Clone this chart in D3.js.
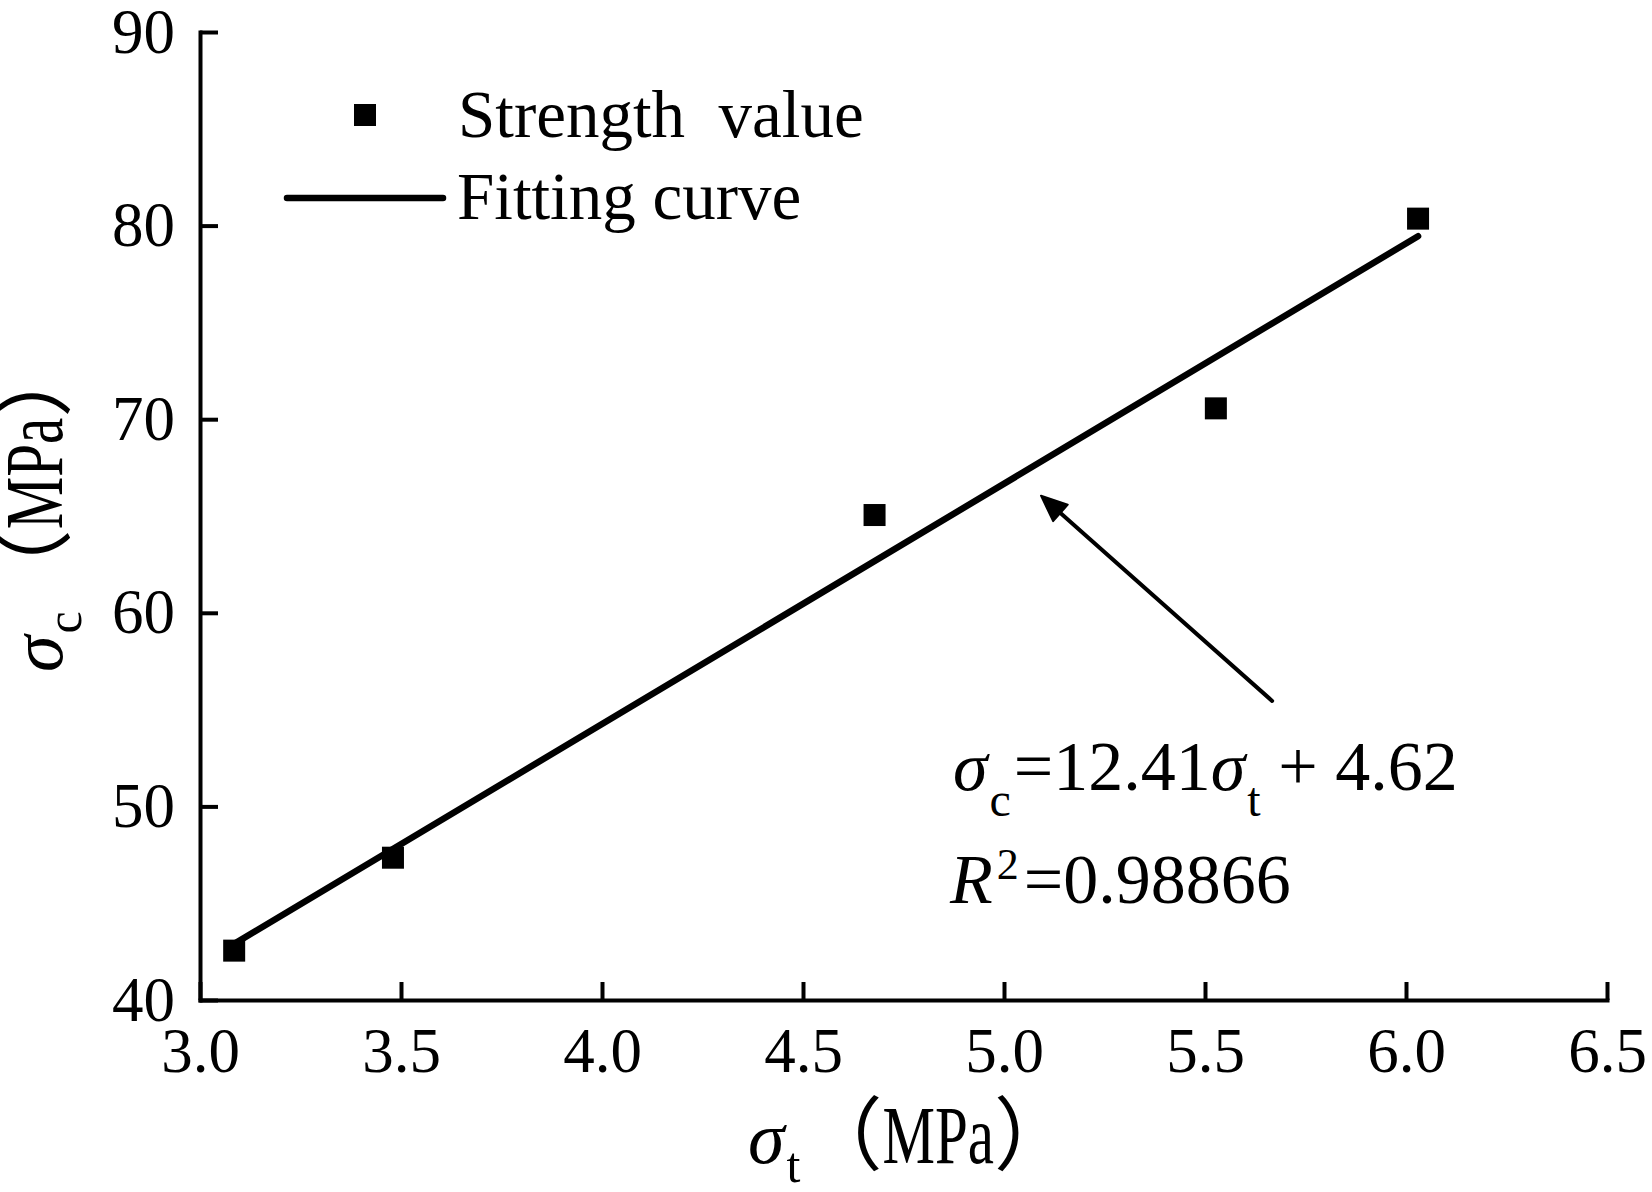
<!DOCTYPE html>
<html>
<head>
<meta charset="utf-8">
<script src="https://cdn.jsdelivr.net/npm/d3@7"></script>
<style>
  html, body { margin: 0; padding: 0; background: #fff; }
  svg { display: block; }
  text { white-space: pre; }
</style>
</head>
<body>
<svg id="chart" width="1652" height="1192"></svg>
<script>
// ---- data ----
const tensileStrength = [3.085, 3.48, 4.678, 5.527, 6.03];       // σt (MPa)
const compressiveStrength = [42.55, 47.35, 65.05, 70.56, 80.36]; // σc (MPa)
const fitX = [3.085, 6.03];
const fitY = [42.90, 79.45];
const xTickValues = [3.0, 3.5, 4.0, 4.5, 5.0, 5.5, 6.0, 6.5];
const yTickValues = [40, 50, 60, 70, 80, 90];
const xDomain = [3.0, 6.5];
const yDomain = [40, 90];
const legendLabels = ["Strength  value", "Fitting curve"];
const arrowFrom = [5.667, 55.45];
const arrowTo = [5.092, 66.05];

// ---- layout ----
const W = 1652, H = 1192;
const plot = { left: 200, right: 1607, top: 32, bottom: 1000 };
const SERIF = "'Liberation Serif', 'Times New Roman', serif";
const CJK = "'Noto Sans CJK SC', sans-serif";

const svg = d3.select("#chart");
svg.append("rect").attr("width", W).attr("height", H).attr("fill", "#fff");

const x = d3.scaleLinear().domain(xDomain).range([plot.left, plot.right]);
const y = d3.scaleLinear().domain(yDomain).range([plot.bottom, plot.top]);

// ---- axes ----
const xAxis = d3.axisBottom(x).tickValues(xTickValues).tickFormat(d3.format(".1f"))
  .tickSizeInner(-18).tickSizeOuter(0).tickPadding(27);
const yAxis = d3.axisLeft(y).tickValues(yTickValues).tickFormat(d3.format("d"))
  .tickSizeInner(-18).tickSizeOuter(0).tickPadding(25);

const gx = svg.append("g").attr("transform", `translate(0,${plot.bottom})`).call(xAxis);
const gy = svg.append("g").attr("transform", `translate(${plot.left},0)`).call(yAxis);

[gx, gy].forEach(g => {
  g.select(".domain").attr("stroke", "#000").attr("stroke-width", 4).attr("stroke-linecap", "square");
  g.selectAll(".tick line").attr("stroke", "#000").attr("stroke-width", 4);
  g.selectAll(".tick text").attr("fill", "#000")
    .style("font-family", SERIF).style("font-size", "63px");
});

// ---- fitting line ----
svg.append("path")
  .datum(fitX.map((v, i) => [v, fitY[i]]))
  .attr("d", d3.line().x(d => x(d[0])).y(d => y(d[1])))
  .attr("fill", "none").attr("stroke", "#000")
  .attr("stroke-width", 6.5).attr("stroke-linecap", "round");

// ---- points ----
const S = 22;
svg.append("g").selectAll("rect")
  .data(tensileStrength.map((v, i) => [v, compressiveStrength[i]]))
  .join("rect")
  .attr("x", d => x(d[0]) - S / 2).attr("y", d => y(d[1]) - S / 2)
  .attr("width", S).attr("height", S).attr("fill", "#000");

// ---- legend ----
const leg = svg.append("g");
leg.append("rect").attr("x", 365 - S / 2).attr("y", 115 - S / 2).attr("width", S).attr("height", S).attr("fill", "#000");
leg.append("line").attr("x1", 287).attr("x2", 443).attr("y1", 198).attr("y2", 198)
  .attr("stroke", "#000").attr("stroke-width", 6.5).attr("stroke-linecap", "round");
leg.append("text").attr("x", 458).attr("y", 137).text(legendLabels[0])
  .style("font-family", SERIF).style("font-size", "67px");
leg.append("text").attr("x", 457).attr("y", 219).text(legendLabels[1])
  .style("font-family", SERIF).style("font-size", "67px");

// ---- rich text helper: pieces laid out one after another ----
function rich(parent, pieces, x0, y0, transform) {
  const g = parent.append("g").attr("transform", transform || null);
  let cx = x0;
  pieces.forEach(p => {
    const sx = p.sx || 1;
    cx += (p.dx || 0);
    const t = g.append("text")
      .attr("transform", `translate(${cx},${y0 + (p.dy || 0)}) scale(${sx},1)`)
      .style("font-family", p.family || SERIF)
      .style("font-size", p.size + "px")
      .style("font-style", p.italic ? "italic" : "normal")
      .attr("fill", "#000")
      .text(p.t);
    cx += t.node().getComputedTextLength() * sx;
  });
  return g;
}

// ---- axis titles ----
const titlePieces = sub => [
  { t: "σ", size: 74, italic: true },
  { t: sub, size: 50, dy: 19, dx: 2 },
  { t: "（", size: 80, family: CJK, dx: 2 },
  { t: "MPa", size: 82, sx: 0.72 },
  { t: "）", size: 80, family: CJK }
];
rich(svg, titlePieces("t"), 748, 1163);
rich(svg, titlePieces("c"), 0, 0, "translate(62,672) rotate(-90)");

// ---- equation ----
rich(svg, [
  { t: "σ", size: 70, italic: true },
  { t: "c", size: 48, dy: 26, dx: 2 },
  { t: "=12.41", size: 70, dx: 3 },
  { t: "σ", size: 70, italic: true },
  { t: "t", size: 48, dy: 26, dx: 2 },
  { t: " + 4.62", size: 70 }
], 953, 790);

rich(svg, [
  { t: "R", size: 70, italic: true },
  { t: "2", size: 44, dy: -24, dx: 4 },
  { t: "=0.98866", size: 70, dx: 5 }
], 950, 903);

// ---- arrow annotation ----
const ax1 = x(arrowFrom[0]), ay1 = y(arrowFrom[1]);
const ax2 = x(arrowTo[0]), ay2 = y(arrowTo[1]);
const ang = Math.atan2(ay2 - ay1, ax2 - ax1);
const headLen = 26, headW = 11;
const bx = ax2 - headLen * Math.cos(ang), by = ay2 - headLen * Math.sin(ang);
svg.append("line").attr("x1", ax1).attr("y1", ay1).attr("x2", bx).attr("y2", by)
  .attr("stroke", "#000").attr("stroke-width", 4).attr("stroke-linecap", "round");
svg.append("path")
  .attr("d", `M${ax2},${ay2} L${bx + headW * Math.sin(ang)},${by - headW * Math.cos(ang)} L${bx - headW * Math.sin(ang)},${by + headW * Math.cos(ang)} Z`)
  .attr("fill", "#000").attr("stroke", "#000").attr("stroke-width", 2).attr("stroke-linejoin", "round");
</script>
</body>
</html>
